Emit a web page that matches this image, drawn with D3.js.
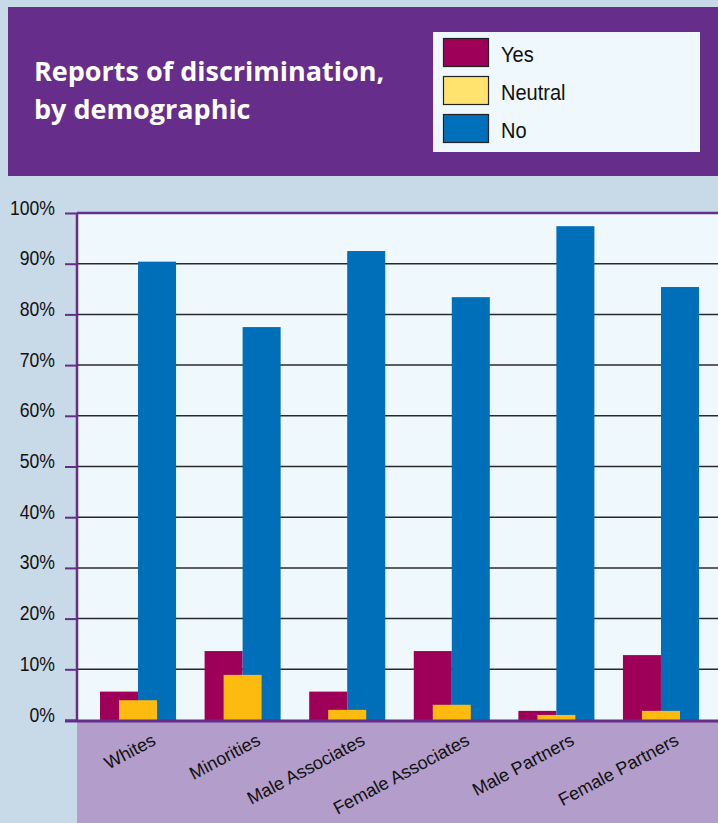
<!DOCTYPE html>
<html>
<head>
<meta charset="utf-8">
<script src="https://cdn.jsdelivr.net/npm/d3@7"></script>
<style>
  body { margin: 0; background: #c8d9e8; }
  svg { display: block; }
  .lab { font-family: "Liberation Sans", Arial, sans-serif; }
</style>
</head>
<body>
<svg width="718" height="823"></svg>
<script>
// chart values
var categories = ["Whites", "Minorities", "Male Associates", "Female Associates", "Male Partners", "Female Partners"];
var seriesNames = ["Yes", "Neutral", "No"];
var yesValues = [5.6, 13.6, 5.6, 13.6, 1.8, 12.8];
var neutralValues = [3.9, 8.9, 2.0, 3.0, 1.0, 1.8];
var noValues = [90.4, 77.5, 92.5, 83.4, 97.4, 85.4];
var yTicks = [0, 10, 20, 30, 40, 50, 60, 70, 80, 90, 100];

var svg = d3.select("svg");
var W = 718, H = 823;
var plot = { left: 77, right: 718, top: 213, bottom: 720 };
var squeeze = 0.84; // the original type is narrower than Liberation Sans

var barColors = { Yes: "#9e0059", Neutral: "#fdbb10", No: "#006fba" };
var swatchColors = { Yes: "#9e0059", Neutral: "#ffe36e", No: "#0070ba" };

// page background
svg.append("rect").attr("width", W).attr("height", H).attr("fill", "#c8d9e8");

// header panel
svg.append("rect")
  .attr("x", 8).attr("y", 7).attr("width", W - 8).attr("height", 169)
  .attr("fill", "#662d8a");

var title = svg.append("text")
  .attr("fill", "#fff")
  .style("font-family", "'Open Sans', sans-serif")
  .style("font-weight", "bold")
  .style("font-size", "27px");
title.append("tspan").attr("x", 34).attr("y", 81).text("Reports of discrimination,");
title.append("tspan").attr("x", 34).attr("y", 119).text("by demographic");

// legend
var legend = svg.append("g");
legend.append("rect")
  .attr("x", 433).attr("y", 32).attr("width", 267).attr("height", 120)
  .attr("fill", "#eef8fd");

var legendY = d3.scalePoint().domain(seriesNames).range([38, 114]);
var item = legend.selectAll("g.item").data(seriesNames).enter().append("g").attr("class", "item");
item.append("rect")
  .attr("x", 443.5).attr("y", function (d) { return legendY(d) + 0.5; })
  .attr("width", 45).attr("height", 28)
  .attr("fill", function (d) { return swatchColors[d]; })
  .attr("stroke", "#222").attr("stroke-width", 1.2);
item.append("text")
  .attr("class", "lab")
  .attr("transform", function (d) { return "translate(501," + (legendY(d) + 24) + ") scale(0.91,1)"; })
  .style("font-size", "22px")
  .attr("fill", "#111")
  .text(function (d) { return d; });

// scales
var x = d3.scaleBand().domain(categories).range([77, 722]).paddingInner(0.273).paddingOuter(0.22);
var sub = d3.scalePoint().domain(seriesNames).range([0, x.bandwidth() / 2]);
var y = d3.scaleLinear().domain([0, 100]).range([plot.bottom, plot.top]);

// plot area + label band
svg.append("rect")
  .attr("x", plot.left).attr("y", plot.top)
  .attr("width", plot.right - plot.left).attr("height", plot.bottom - plot.top)
  .attr("fill", "#eef8fd");
svg.append("rect")
  .attr("x", plot.left).attr("y", plot.bottom)
  .attr("width", plot.right - plot.left).attr("height", H - plot.bottom)
  .attr("fill", "#b39dca");

// gridlines
svg.append("g").selectAll("line")
  .data(yTicks.filter(function (t) { return t > 0 && t < 100; }))
  .enter().append("line")
  .attr("x1", plot.left).attr("x2", plot.right)
  .attr("y1", function (d) { return y(d); }).attr("y2", function (d) { return y(d); })
  .attr("stroke", "#2a2a2a").attr("stroke-width", 1.5);

// bars
var rows = categories.map(function (c, i) {
  return { cat: c, Yes: yesValues[i], Neutral: neutralValues[i], No: noValues[i] };
});
var drawOrder = ["Yes", "No", "Neutral"];
drawOrder.forEach(function (s) {
  svg.append("g").selectAll("rect")
    .data(rows).enter().append("rect")
    .attr("x", function (d) { return x(d.cat) + sub(s); })
    .attr("y", function (d) { return y(d[s]); })
    .attr("width", x.bandwidth() / 2)
    .attr("height", function (d) { return y(0) - y(d[s]); })
    .attr("fill", barColors[s]);
});

// y axis
var yAxis = svg.append("g")
  .attr("transform", "translate(" + plot.left + ",0)")
  .call(d3.axisLeft(y).tickValues(yTicks).tickSize(12).tickPadding(10)
    .tickFormat(function (d) { return d + "%"; }));
yAxis.select(".domain").remove();
yAxis.selectAll(".tick line").attr("stroke", "#662d8a").attr("stroke-width", 2);
yAxis.selectAll(".tick text")
  .attr("class", "lab")
  .attr("x", -22 / squeeze)
  .attr("dy", "0.05em")
  .attr("transform", "scale(" + squeeze + ",1)")
  .style("font-size", "21px")
  .attr("fill", "#111");

// frame lines
svg.append("line").attr("x1", plot.left).attr("x2", plot.left)
  .attr("y1", plot.top).attr("y2", plot.bottom + 1)
  .attr("stroke", "#662d8a").attr("stroke-width", 2.5);
svg.append("line").attr("x1", plot.left).attr("x2", plot.right)
  .attr("y1", plot.top).attr("y2", plot.top)
  .attr("stroke", "#662d8a").attr("stroke-width", 2.5);
svg.append("line").attr("x1", plot.left - 12).attr("x2", plot.right)
  .attr("y1", plot.bottom + 1).attr("y2", plot.bottom + 1)
  .attr("stroke", "#662d8a").attr("stroke-width", 3);

// category labels
svg.append("g").selectAll("text")
  .data(categories).enter().append("text")
  .attr("class", "lab")
  .attr("text-anchor", "end")
  .attr("transform", function (d) {
    return "translate(" + (x(d) + x.bandwidth() / 2 + 19) + ",744) rotate(-28)";
  })
  .style("font-size", "18px")
  .attr("fill", "#111")
  .text(function (d) { return d; });
</script>
</body>
</html>
